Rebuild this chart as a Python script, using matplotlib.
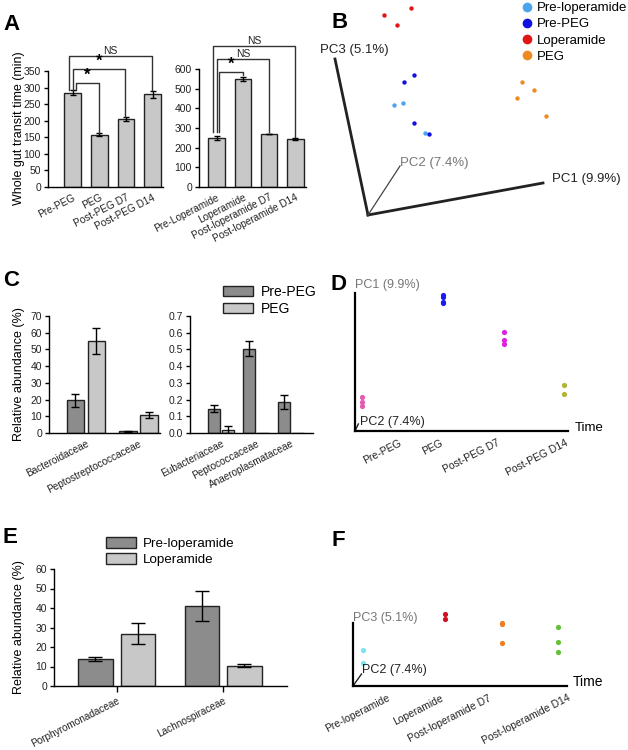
import numpy as np
import matplotlib
matplotlib.use("Agg")
import matplotlib.pyplot as plt
from matplotlib.patches import Patch
from matplotlib.lines import Line2D

plt.rcParams['font.family'] = ['Liberation Sans', 'DejaVu Sans']

W, H = 628, 750

# ---- data -----------------------------------------------------------
# A: whole gut transit time (min)
peg_groups = ['Pre-PEG', 'PEG', 'Post-PEG D7', 'Post-PEG D14']
peg_time = [285, 158, 205, 280]
peg_time_err = [8, 4, 5, 10]
lop_groups = ['Pre-Loperamide', 'Loperamide', 'Post-loperamide D7', 'Post-loperamide D14']
lop_time = [250, 550, 270, 245]
lop_time_err = [10, 10, 0, 4]

# B: PCoA projected scores (3D view)
b_prelop_x = [26, 35, 57]
b_prelop_y = [110, 112, 82]
b_prepeg_x = [46, 36, 46, 61]
b_prepeg_y = [140, 133, 92, 81]
b_lop_x = [16, 43, 29]
b_lop_y = [200, 207, 190]
b_peg_x = [154, 166, 149, 178]
b_peg_y = [133, 125, 117, 99]
b_axis_pc1 = (175, 32)
b_axis_pc2 = (32, 49)
b_axis_pc3 = (-33, 156)

# C: relative abundance, PEG
c_fam1 = ['Bacteroidaceae', 'Peptostreptococcaceae']
c_pre1 = [19.5, 1.0]
c_pre1_err = [4.0, 0.3]
c_peg1 = [55.0, 10.5]
c_peg1_err = [8.0, 1.8]
c_fam2 = ['Eubacteriaceae', 'Peptococcaceae', 'Anaeroplasmataceae']
c_pre2 = [0.145, 0.505, 0.185]
c_pre2_err = [0.02, 0.045, 0.04]
c_peg2 = [0.02, 0.0, 0.0]
c_peg2_err = [0.02, 0.0, 0.0]

# D: PC1 over time (PEG)
d_time = [0.10, 1.32, 2.24, 3.14]
d_labels = ['Pre-PEG', 'PEG', 'Post-PEG D7', 'Post-PEG D14']
d_scores = [[34, 29, 25], [136, 134, 129, 128], [99, 91, 87], [46, 37]]

# E: relative abundance, loperamide
e_fam = ['Porphyromonadaceae', 'Lachnospiraceae']
e_pre = [13.8, 41.0]
e_pre_err = [1.0, 7.5]
e_lop = [26.8, 10.5]
e_lop_err = [5.5, 1.0]

# F: PC3 over time (loperamide)
f_time = [0.16, 1.40, 2.27, 3.14]
f_labels = ['Pre-loperamide', 'Loperamide', 'Post-loperamide D7', 'Post-loperamide D14']
f_scores = [[36, 23], [72, 67], [63, 62, 43], [59, 44, 34]]

DARK = '#8c8c8c'
LIGHT = '#c8c8c8'
TXT = '#222222'

fig = plt.figure(figsize=(W / 100, H / 100), dpi=100)


def px_axes(l, t, r, b):
    return fig.add_axes([l / W, 1 - b / H, (r - l) / W, (b - t) / H])


def fx(x):
    return x / W


def fy(y):
    return 1 - y / H


def style_bar_axes(ax):
    for s in ['top', 'right']:
        ax.spines[s].set_visible(False)
    for s in ['left', 'bottom']:
        ax.spines[s].set_linewidth(1.0)
    ax.tick_params(axis='y', length=3, width=1, labelsize=7.5, labelcolor=TXT, pad=2)
    ax.tick_params(axis='x', length=0, labelsize=7.2, labelcolor=TXT, pad=4)


def bracket(ax, x0, x1, y, y0, y1, label, star=False):
    ax.plot([x0, x0, x1, x1], [y0, y, y, y1], color='#333333', lw=1.0, clip_on=False)
    if star:
        ax.text((x0 + x1) / 2, y, '*', ha='center', va='bottom', fontsize=12,
                fontweight='bold', clip_on=False)
    else:
        ax.text((x0 + x1) / 2, y, label, ha='center', va='bottom', fontsize=7.5,
                color=TXT, clip_on=False)


def time_axes(ax, ymax):
    ax.set_xlim(0, 3.2)
    ax.set_ylim(0, ymax)
    for s in ['top', 'right']:
        ax.spines[s].set_visible(False)
    for s in ['left', 'bottom']:
        ax.spines[s].set_linewidth(1.6)
    ax.set_yticks([])
    ax.tick_params(axis='x', length=0, pad=5)


# ---- A ---------------------------------------------------------------
ax = px_axes(48, 71, 163, 187)
x = np.arange(len(peg_groups))
ax.bar(x, peg_time, width=0.62, color=LIGHT, edgecolor='#222222', lw=1)
ax.errorbar(x, peg_time, yerr=peg_time_err, fmt='none', ecolor='black', elinewidth=1, capsize=2.5)
ax.set_xlim(-0.92, 3.39)
ax.set_ylim(0, 350)
ax.set_yticks(range(0, 351, 50))
ax.set_xticks(x)
ax.set_xticklabels(peg_groups, rotation=27, ha='right', rotation_mode='anchor')
style_bar_axes(ax)
ax.set_ylabel('Whole gut transit time (min)', fontsize=9)
ax.yaxis.set_label_coords(-0.2, 0.51)
bracket(ax, -0.13, 2.98, 395, 293, 293, 'NS')
bracket(ax, 0.02, 1.97, 356, 293, 211, '*', star=True)
bracket(ax, 0.13, 0.99, 314, 293, 163, '*', star=True)

ax = px_axes(199, 69, 306, 187)
x = np.arange(len(lop_groups))
ax.bar(x, lop_time, width=0.62, color=LIGHT, edgecolor='#222222', lw=1)
ax.errorbar(x, lop_time, yerr=lop_time_err, fmt='none', ecolor='black', elinewidth=1, capsize=2.5)
ax.set_xlim(-0.67, 3.40)
ax.set_ylim(0, 600)
ax.set_yticks(range(0, 601, 100))
ax.set_xticks(x)
ax.set_xticklabels(lop_groups, rotation=27, ha='right', rotation_mode='anchor')
style_bar_axes(ax)
bracket(ax, -0.13, 2.98, 717, 280, 254, 'NS')
bracket(ax, 0.02, 2.0, 651, 280, 280, 'NS')
bracket(ax, 0.1, 1.0, 585, 280, 568, '*', star=True)

# ---- B ---------------------------------------------------------------
ax = px_axes(310, 0, 628, 230)
ax.set_xlim(-58, 260)
ax.set_ylim(-15, 215)
ax.axis('off')
ax.plot([0, b_axis_pc1[0]], [0, b_axis_pc1[1]], color='#222222', lw=2)
ax.plot([0, b_axis_pc3[0]], [0, b_axis_pc3[1]], color='#222222', lw=2)
ax.plot([0, b_axis_pc2[0]], [0, b_axis_pc2[1]], color='#444444', lw=0.9)
ax.text(b_axis_pc1[0] + 9, b_axis_pc1[1] + 4, 'PC1 (9.9%)', fontsize=9.5, color=TXT, va='center')
ax.text(b_axis_pc3[0] - 15, b_axis_pc3[1] + 9, 'PC3 (5.1%)', fontsize=9.5, color=TXT, va='center')
ax.text(b_axis_pc2[0], b_axis_pc2[1] + 3, 'PC2 (7.4%)', fontsize=9.5, color='#777777', va='center')
b_colors = ['#4da3f0', '#1010e0', '#e01515', '#ef8a20']
ax.scatter(b_prelop_x, b_prelop_y, s=10, color=b_colors[0], lw=0)
ax.scatter(b_prepeg_x, b_prepeg_y, s=10, color=b_colors[1], lw=0)
ax.scatter(b_lop_x, b_lop_y, s=10, color=b_colors[2], lw=0)
ax.scatter(b_peg_x, b_peg_y, s=10, color=b_colors[3], lw=0)
fig.legend([Line2D([], [], ls='none', marker='o', ms=7, color=c, mec='none') for c in b_colors],
           ['Pre-loperamide', 'Pre-PEG', 'Loperamide', 'PEG'],
           loc='upper left', bbox_to_anchor=(fx(522), fy(2)), frameon=False,
           fontsize=9.5, handlelength=0.8, handletextpad=0.35, labelspacing=0.3,
           borderpad=0, borderaxespad=0)

# ---- C ---------------------------------------------------------------
ax = px_axes(49, 316, 160, 433)
x = np.arange(len(c_fam1))
ax.bar(x - 0.2, c_pre1, width=0.33, color=DARK, edgecolor='#222222', lw=1)
ax.bar(x + 0.2, c_peg1, width=0.33, color=LIGHT, edgecolor='#222222', lw=1)
ax.errorbar(x - 0.2, c_pre1, yerr=c_pre1_err, fmt='none', ecolor='black', elinewidth=1, capsize=3)
ax.errorbar(x + 0.2, c_peg1, yerr=c_peg1_err, fmt='none', ecolor='black', elinewidth=1, capsize=3)
ax.set_xlim(-0.70, 1.41)
ax.set_ylim(0, 70)
ax.set_yticks(range(0, 71, 10))
ax.set_xticks(x)
ax.set_xticklabels(c_fam1, rotation=27, ha='right', rotation_mode='anchor')
style_bar_axes(ax)
ax.set_ylabel('Relative abundance (%)', fontsize=9)
ax.yaxis.set_label_coords(-0.22, 0.5)

ax = px_axes(190, 316, 313, 433)
x = np.arange(len(c_fam2))
ax.bar(x - 0.2, c_pre2, width=0.34, color=DARK, edgecolor='#222222', lw=1)
ax.bar(x + 0.2, c_peg2, width=0.34, color=LIGHT, edgecolor='#222222', lw=1)
ax.errorbar(x - 0.2, c_pre2, yerr=c_pre2_err, fmt='none', ecolor='black', elinewidth=1, capsize=3)
m = np.array(c_peg2_err) > 0
ax.errorbar((x + 0.2)[m], np.array(c_peg2)[m], yerr=np.array(c_peg2_err)[m], fmt='none',
            ecolor='black', elinewidth=1, capsize=3)
ax.set_xlim(-0.89, 2.63)
ax.set_ylim(0, 0.7)
ax.set_yticks(np.arange(0, 0.71, 0.1))
ax.set_yticklabels(['%.1f' % v for v in np.arange(0, 0.71, 0.1)])
ax.set_xticks(x)
ax.set_xticklabels(c_fam2, rotation=27, ha='right', rotation_mode='anchor')
style_bar_axes(ax)
fig.legend([Patch(facecolor=DARK, edgecolor='#222222'), Patch(facecolor=LIGHT, edgecolor='#222222')],
           ['Pre-PEG', 'PEG'], loc='upper left', bbox_to_anchor=(fx(223), fy(285)),
           frameon=False, fontsize=10, handlelength=2.15, handleheight=0.75,
           handletextpad=0.6, labelspacing=0.2, borderpad=0, borderaxespad=0)

# ---- D ---------------------------------------------------------------
ax = px_axes(355, 293, 568, 431)
time_axes(ax, 138)
ax.set_xticks([0.65, 1.28, 2.13, 3.15])
ax.set_xticklabels(d_labels, rotation=27, ha='right', rotation_mode='anchor', fontsize=7.5, color=TXT)
for t, vals, c in zip(d_time, d_scores, ['#e35aae', '#1a1af5', '#e020e0', '#b3b336']):
    ax.scatter([t] * len(vals), vals, s=14, color=c, lw=0, clip_on=False)
ax.plot([0, 0.05], [0, 7], color='#222222', lw=1, clip_on=False)
fig.text(fx(355), fy(285), 'PC1 (9.9%)', fontsize=9, color='#777777', va='center')
fig.text(fx(360), fy(422), 'PC2 (7.4%)', fontsize=9, color=TXT, va='center')
fig.text(fx(575), fy(428), 'Time', fontsize=9.5, color='black', va='center')

# ---- E ---------------------------------------------------------------
ax = px_axes(54, 569, 287, 686)
x = np.arange(len(e_fam))
ax.bar(x - 0.2, e_pre, width=0.325, color=DARK, edgecolor='#222222', lw=1)
ax.bar(x + 0.2, e_lop, width=0.325, color=LIGHT, edgecolor='#222222', lw=1)
ax.errorbar(x - 0.2, e_pre, yerr=e_pre_err, fmt='none', ecolor='black', elinewidth=1, capsize=5)
ax.errorbar(x + 0.2, e_lop, yerr=e_lop_err, fmt='none', ecolor='black', elinewidth=1, capsize=5)
ax.set_xlim(-0.59, 1.60)
ax.set_ylim(0, 60)
ax.set_yticks(range(0, 61, 10))
ax.set_xticks(x)
ax.set_xticklabels(e_fam, rotation=27, ha='right', rotation_mode='anchor', fontsize=6.9)
style_bar_axes(ax)
ax.tick_params(axis='x', length=4, width=1, pad=3)
ax.set_ylabel('Relative abundance (%)', fontsize=9)
ax.yaxis.set_label_coords(-0.125, 0.5)
fig.legend([Patch(facecolor=DARK, edgecolor='#222222'), Patch(facecolor=LIGHT, edgecolor='#222222')],
           ['Pre-loperamide', 'Loperamide'], loc='upper left', bbox_to_anchor=(fx(106), fy(537)),
           frameon=False, fontsize=9.6, handlelength=2.25, handleheight=0.85,
           handletextpad=0.5, labelspacing=0.22, borderpad=0, borderaxespad=0)

# ---- F ---------------------------------------------------------------
ax = px_axes(353, 623, 567, 686)
time_axes(ax, 63)
ax.set_xticks([0.52, 1.33, 2.06, 3.27])
ax.set_xticklabels(f_labels, rotation=27, ha='right', rotation_mode='anchor', fontsize=7.5, color=TXT)
for t, vals, c in zip(f_time, f_scores, ['#78e6f0', '#d01020', '#ef7d22', '#62c232']):
    ax.scatter([t] * len(vals), vals, s=14, color=c, lw=0, clip_on=False)
ax.plot([0, 0.13], [0, 12], color='#222222', lw=1, clip_on=False)
fig.text(fx(353), fy(618), 'PC3 (5.1%)', fontsize=9, color='#777777', va='center')
fig.text(fx(362), fy(670), 'PC2 (7.4%)', fontsize=9, color=TXT, va='center')
fig.text(fx(573), fy(682), 'Time', fontsize=10, color='black', va='center')

# ---- panel letters ---------------------------------------------------
for lab, px, py in [('A', 3, 30), ('B', 331, 28), ('C', 3, 286), ('D', 330, 290), ('E', 3, 543), ('F', 331, 546)]:
    fig.text(fx(px), fy(py), lab, fontsize=16, fontweight='bold', va='baseline')

plt.savefig('out.png', dpi=100)
